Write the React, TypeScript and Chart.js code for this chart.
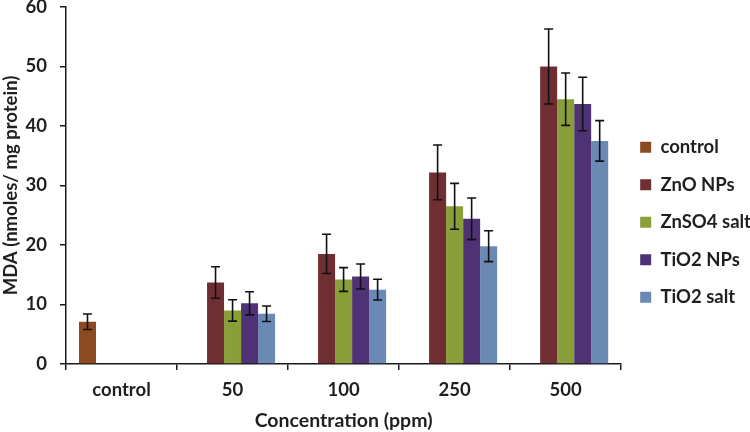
import React, { useEffect, useRef } from 'react';
import { Chart, registerables } from 'chart.js';

Chart.register(...registerables);

const categories = ['control', '50', '100', '250', '500'];
const seriesNames = ['control', 'ZnO NPs', 'ZnSO4 salt', 'TiO2 NPs', 'TiO2 salt'];
const seriesColors = ['#8C4A21', '#6F2F32', '#8A9F3A', '#4F3276', '#6A8AB5'];

const controlValues = [7.1, null, null, null, null];
const controlErrors = [1.3, null, null, null, null];
const znoNPsValues = [null, 13.7, 18.5, 32.2, 50.0];
const znoNPsErrors = [null, 2.65, 3.3, 4.6, 6.3];
const znso4SaltValues = [null, 9.0, 14.2, 26.5, 44.5];
const znso4SaltErrors = [null, 1.8, 2.0, 3.85, 4.4];
const tio2NPsValues = [null, 10.2, 14.7, 24.4, 43.7];
const tio2NPsErrors = [null, 1.95, 2.1, 3.5, 4.5];
const tio2SaltValues = [null, 8.45, 12.5, 19.8, 37.5];
const tio2SaltErrors = [null, 1.3, 1.75, 2.6, 3.4];

const yTicks = [0, 10, 20, 30, 40, 50, 60];

const allValues = [controlValues, znoNPsValues, znso4SaltValues, tio2NPsValues, tio2SaltValues];
const allErrors = [controlErrors, znoNPsErrors, znso4SaltErrors, tio2NPsErrors, tio2SaltErrors];

const FONT = 'Lato, "Open Sans", sans-serif';
const TEXT = '#1f1f1f';

const errorBarPlugin = {
  id: 'errorBars',
  afterDatasetsDraw(chart: any) {
    const ctx = chart.ctx;
    const yScale = chart.scales.y;
    ctx.save();
    ctx.strokeStyle = '#111';
    ctx.lineWidth = 1.6;
    chart.data.datasets.forEach((ds: any, i: number) => {
      const meta = chart.getDatasetMeta(i);
      const errs = allErrors[i];
      meta.data.forEach((bar: any, j: number) => {
        const v = ds.data[j];
        const e = errs[j];
        if (v == null || e == null) return;
        const x = bar.x;
        const yTop = yScale.getPixelForValue(v + e);
        const yBot = yScale.getPixelForValue(v - e);
        const cap = 4.5;
        ctx.beginPath();
        ctx.moveTo(x, yTop);
        ctx.lineTo(x, yBot);
        ctx.moveTo(x - cap, yTop);
        ctx.lineTo(x + cap, yTop);
        ctx.moveTo(x - cap, yBot);
        ctx.lineTo(x + cap, yBot);
        ctx.stroke();
      });
    });
    ctx.restore();
  },
};

export default function App() {
  const canvasRef = useRef<HTMLCanvasElement | null>(null);

  useEffect(() => {
    if (!canvasRef.current) return;
    const chart = new Chart(canvasRef.current, {
      type: 'bar',
      data: {
        labels: categories,
        datasets: seriesNames.map((name, i) => ({
          label: name,
          data: allValues[i] as any,
          backgroundColor: seriesColors[i],
          borderWidth: 0,
          categoryPercentage: 0.766,
          barPercentage: 1.0,
          skipNull: false,
        })),
      },
      options: {
        animation: false,
        responsive: true,
        maintainAspectRatio: false,
        layout: { padding: { top: 0, left: 0, right: -11, bottom: 0 } },
        plugins: {
          tooltip: { enabled: false },
          legend: {
            position: 'right',
            align: 'center',
            title: {
              display: true,
              text: ' ',
              padding: 2,
              font: { family: FONT, size: 7 },
            },
            labels: {
              boxWidth: 11,
              boxHeight: 11,
              padding: 19,
              color: TEXT,
              font: { family: FONT, size: 18.5, weight: 'bold' },
            },
          },
        },
        scales: {
          x: {
            grid: {
              display: true,
              drawOnChartArea: false,
              drawTicks: true,
              tickLength: 6,
              color: '#1a1a1a',
              lineWidth: 1.5,
              offset: true,
            },
            border: { display: true, color: '#1a1a1a', width: 1.5 },
            ticks: {
              color: TEXT,
              padding: 9,
              font: { family: FONT, size: 18.5, weight: 'bold' },
            },
            title: {
              display: true,
              text: 'Concentration (ppm)',
              color: TEXT,
              padding: { top: 0, bottom: 0 },
              font: { family: FONT, size: 19.5, weight: 'bold' },
            },
            afterFit: (s: any) => {
              s.height = 68;
            },
          },
          y: {
            min: 0,
            max: 60,
            afterBuildTicks: (s: any) => {
              s.ticks = yTicks.map((v) => ({ value: v }));
            },
            grid: {
              display: true,
              drawOnChartArea: false,
              drawTicks: true,
              tickLength: 6,
              color: '#1a1a1a',
              lineWidth: 1.5,
            },
            border: { display: true, color: '#1a1a1a', width: 1.5 },
            ticks: {
              color: TEXT,
              padding: 13,
              font: { family: FONT, size: 18.5, weight: 'bold' },
            },
            title: {
              display: true,
              text: 'MDA (nmoles/ mg protein)',
              color: TEXT,
              padding: { top: 0, bottom: 0 },
              font: { family: FONT, size: 18.5, weight: 'bold' },
            },
            afterFit: (s: any) => {
              s.width = 66;
              s.paddingTop = 7;
              s.paddingBottom = 0;
            },
          },
        },
      },
      plugins: [errorBarPlugin],
    } as any);
    return () => chart.destroy();
  }, []);

  return (
    <div style={{ position: 'fixed', left: 0, top: 0, width: 750, height: 432, background: '#fff' }}>
      <canvas ref={canvasRef} />
    </div>
  );
}
